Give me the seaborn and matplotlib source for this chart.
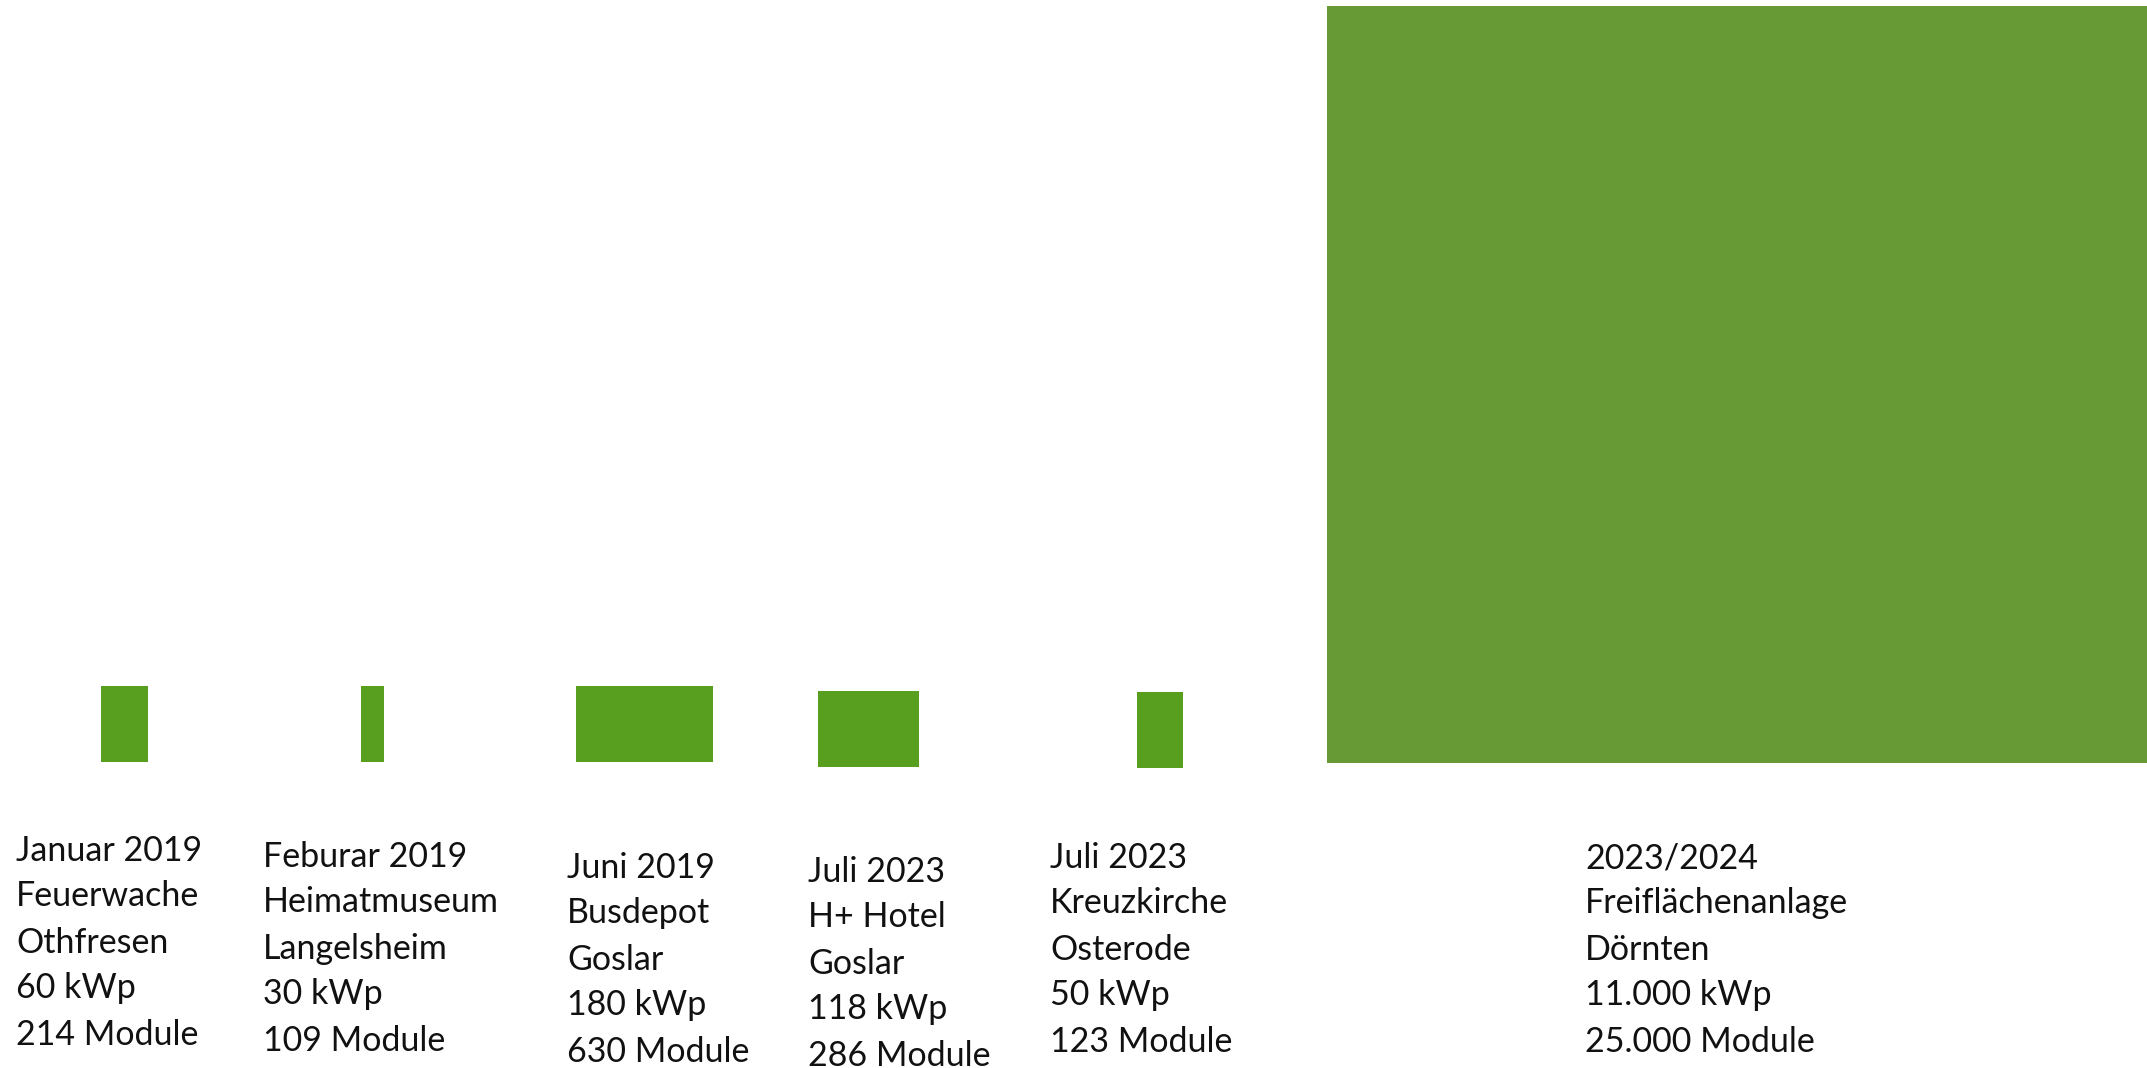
import matplotlib
matplotlib.use("Agg")
import matplotlib.pyplot as plt
import seaborn as sns
import pandas as pd

# ---- data ----
dates = ["Januar 2019", "Feburar 2019", "Juni 2019", "Juli 2023", "Juli 2023", "2023/2024"]
names = ["Feuerwache", "Heimatmuseum", "Busdepot", "H+ Hotel", "Kreuzkirche", "Freiflächenanlage"]
places = ["Othfresen", "Langelsheim", "Goslar", "Goslar", "Osterode", "Dörnten"]
kwp_labels = ["60 kWp", "30 kWp", "180 kWp", "118 kWp", "50 kWp", "11.000 kWp"]
module_labels = ["214 Module", "109 Module", "630 Module", "286 Module", "123 Module", "25.000 Module"]
kwp = [60, 30, 180, 118, 50, 11000]
# bar geometry (pixel units)
bar_widths = [47, 23, 137, 101, 46, 820]
bar_heights = [76, 76, 76, 76, 76, 757]

# ---- layout / style ----
bar_centers = [124.5, 372.5, 644.5, 868.5, 1160, 1737]
bar_bottoms = [762, 762, 762, 767, 768, 763]
bar_colors = ["#589E1F", "#589E1F", "#589E1F", "#589E1F", "#589E1F", "#679A35"]
text_x = [16, 263, 567, 808, 1050, 1585]
text_base = [861, 867, 878, 882, 868, 868]
line_offsets = [0, 45, 92, 137, 184]

W, H = 2147, 1068
sns.set_theme(style="white")
plt.rcParams["font.family"] = ["Lato", "DejaVu Sans"]

fig = plt.figure(figsize=(W / 100, H / 100), dpi=100)
ax = fig.add_axes([0, 0, 1, 1])

df = pd.DataFrame({"center": bar_centers, "height": bar_heights, "name": names})
sns.barplot(data=df, x="center", y="height", hue="name", palette=bar_colors,
            dodge=False, native_scale=True, legend=False, ax=ax,
            saturation=1, linewidth=0)

for p in ax.patches:
    cx = p.get_x() + p.get_width() / 2
    i = min(range(len(bar_centers)), key=lambda k: abs(bar_centers[k] - cx))
    p.set_width(bar_widths[i])
    p.set_x(bar_centers[i] - bar_widths[i] / 2)
    p.set_height(bar_heights[i])
    p.set_y(bar_bottoms[i] - bar_heights[i])
    p.set_facecolor(bar_colors[i])
    p.set_edgecolor("none")

ax.set_xlim(0, W)
ax.set_ylim(H, 0)
ax.axis("off")

for i in range(len(dates)):
    lines = [dates[i], names[i], places[i], kwp_labels[i], module_labels[i]]
    for j, t in enumerate(lines):
        ax.text(text_x[i], text_base[i] + line_offsets[j], t, fontsize=24.5,
                color="#111111", ha="left", va="baseline")

fig.savefig("out.png", dpi=100, facecolor="white")
